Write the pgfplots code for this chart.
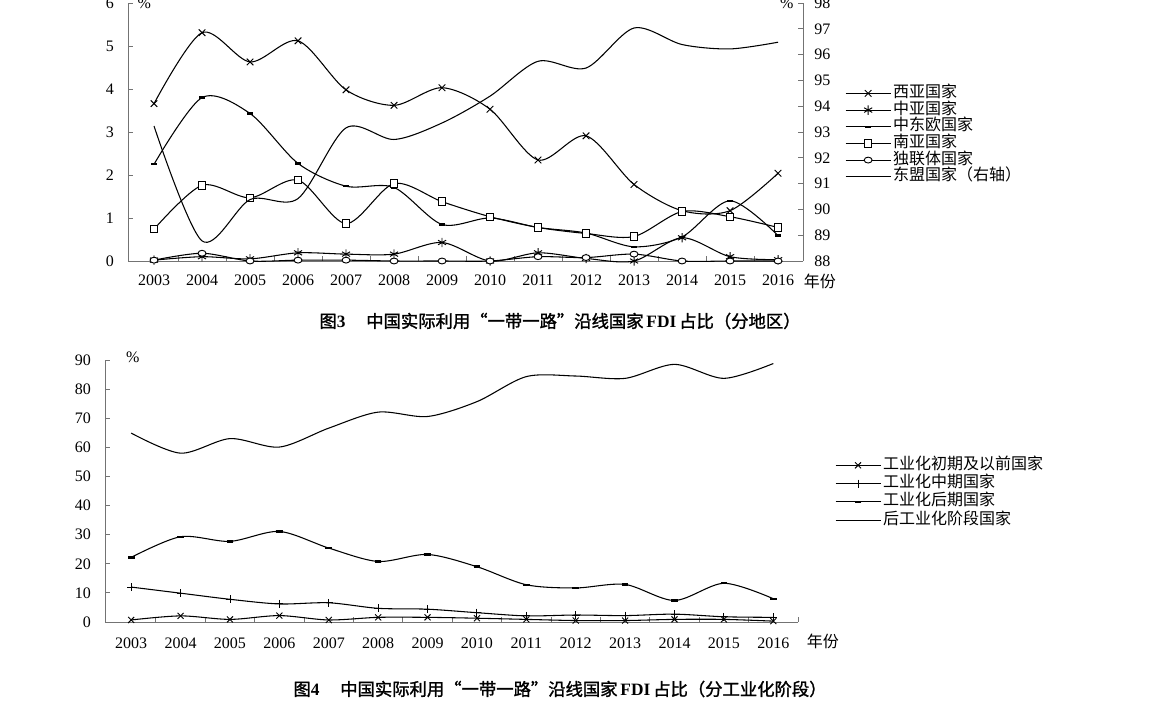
\documentclass[border=0pt]{standalone}
\usepackage{pgfplots}
\pgfplotsset{compat=1.18}
\usepackage{fontspec}
\setmainfont{Liberation Serif}
\newfontfamily\cjk{Noto Sans CJK SC}
\newfontfamily\cjkb[FakeBold=1.5]{Noto Sans CJK SC}
\tikzset{mk/.style={solid, line width=0.7pt}}
\begin{document}
\begin{tikzpicture}
\path[use as bounding box] (0,0) rectangle (880.5pt,536.25pt);
\pgfplotsset{
  base/.style={
    scale only axis, clip=false,
    axis line style={black!55, line width=0.6pt},
    tick style={black!55, line width=0.6pt},
    tick align=inside,
    major tick length=3.75pt, minor tick length=3.75pt,
    tick label style={font=\fontsize{12}{12}\selectfont},
    /pgf/number format/assume math mode=true,
    legend image code/.code={\draw[mark repeat=2,mark phase=2,##1] plot coordinates {(0pt,0pt) (16.875pt,0pt) (33.75pt,0pt)};},
    legend cell align=left,
  },
  ln/.style={black, line width=0.8pt, smooth, tension=0.5},
}
% ---------------- Figure 3 ----------------
\begin{axis}[base,
  at={(96pt,340.5pt)}, anchor=south west,
  width=506.25pt, height=193.5pt,
  xmin=2002.458, xmax=2016.52, ymin=0, ymax=6,
  axis x line*=bottom, axis y line*=left,
  xtick={2003.5,2004.5,...,2015.5}, xticklabels={},
  extra x ticks={2003,2004,2005,2006,2007,2008,2009,2010,2011,2012,2013,2014,2015,2016},
  extra x tick labels={2003,2004,2005,2006,2007,2008,2009,2010,2011,2012,2013,2014,2015,2016},
  extra x tick style={major tick length=0pt, tick label style={yshift=-7pt}},
  ytick={0,1,2,3,4,5,6}, y tick label style={xshift=-7pt},
  legend style={at={(1.062,0.679)}, anchor=north west, draw=none, fill=none, inner sep=0pt,
    row sep=1.5pt, font=\cjk\fontsize{12}{12}\selectfont,
    nodes={inner ysep=0pt, inner xsep=1.5pt, text height=8.5pt, text depth=2.5pt}},
]
\addplot[ln, mark=x, mark size=3.5pt, mark options={mk}] coordinates {
(2003,3.66) (2004,5.31) (2005,4.63) (2006,5.12) (2007,3.98) (2008,3.62) (2009,4.03)
(2010,3.53) (2011,2.35) (2012,2.91) (2013,1.78) (2014,1.17) (2015,1.17) (2016,2.04)};
\addlegendentry{西亚国家}
\addplot[ln, mark=asterisk, mark size=3.5pt, mark options={mk}] coordinates {
(2003,0.02) (2004,0.10) (2005,0.05) (2006,0.19) (2007,0.16) (2008,0.16) (2009,0.43)
(2010,0.00) (2011,0.19) (2012,0.06) (2013,0.00) (2014,0.54) (2015,0.10) (2016,0.03)};
\addlegendentry{中亚国家}
\addplot[ln, mark=-, mark size=2.2pt, mark options={solid, line width=1.8pt}] coordinates {
(2003,2.25) (2004,3.80) (2005,3.43) (2006,2.27) (2007,1.74) (2008,1.71) (2009,0.85)
(2010,1.00) (2011,0.78) (2012,0.65) (2013,0.33) (2014,0.56) (2015,1.40) (2016,0.59)};
\addlegendentry{中东欧国家}
\addplot[ln, mark=square*, mark size=2.8pt, mark options={mk, fill=white}] coordinates {
(2003,0.74) (2004,1.76) (2005,1.47) (2006,1.88) (2007,0.87) (2008,1.80) (2009,1.38)
(2010,1.03) (2011,0.78) (2012,0.64) (2013,0.57) (2014,1.15) (2015,1.03) (2016,0.78)};
\addlegendentry{南亚国家}
\addplot[ln, mark=*, mark size=2.2pt, mark options={mk, fill=white, xscale=1.35}] coordinates {
(2003,0.02) (2004,0.18) (2005,0.00) (2006,0.02) (2007,0.02) (2008,0.00) (2009,0.00)
(2010,0.00) (2011,0.10) (2012,0.08) (2013,0.16) (2014,0.00) (2015,0.00) (2016,0.00)};
\addlegendentry{独联体国家}
\addlegendimage{ln}
\addlegendentry{东盟国家（右轴）}
\node[font=\fontsize{12}{12}\selectfont] at (rel axis cs:0.024,1) {\%};
\node[font=\fontsize{12}{12}\selectfont] at (rel axis cs:0.976,1) {\%};
\node[font=\cjk\fontsize{12}{12}\selectfont] at (rel axis cs:1.025,-0.078) {年份};
\end{axis}
\begin{axis}[base,
  at={(96pt,340.5pt)}, anchor=south west,
  width=506.25pt, height=193.5pt,
  xmin=2002.458, xmax=2016.52, ymin=88, ymax=98,
  axis x line=none, axis y line*=right,
  ytick={88,89,90,91,92,93,94,95,96,97,98}, y tick label style={xshift=5pt},
]
\addplot[ln] coordinates {
(2003,93.23) (2004,88.78) (2005,90.38) (2006,90.42) (2007,93.16) (2008,92.71) (2009,93.35)
(2010,94.39) (2011,95.74) (2012,95.48) (2013,97.03) (2014,96.39) (2015,96.22) (2016,96.48)};
\end{axis}
\node[font=\fontsize{13}{13}\selectfont] at (420pt,295.5pt)
  {{\cjkb 图}\textbf{3}\hspace{1.2em}{\cjkb 中国实际利用“一带一路”沿线国家}\,\textbf{FDI}\,{\cjkb 占比（分地区）}};
% ---------------- Figure 4 ----------------
\begin{axis}[base,
  at={(78.75pt,69.75pt)}, anchor=south west,
  width=519.75pt, height=196.5pt,
  xmin=2002.47, xmax=2016.5, ymin=0, ymax=90,
  axis x line*=bottom, axis y line*=left,
  xtick={2003.5,2004.5,...,2016.5}, xticklabels={},
  extra x ticks={2003,2004,2005,2006,2007,2008,2009,2010,2011,2012,2013,2014,2015,2016},
  extra x tick labels={2003,2004,2005,2006,2007,2008,2009,2010,2011,2012,2013,2014,2015,2016},
  extra x tick style={major tick length=0pt, tick label style={yshift=-8pt}},
  ytick={0,10,20,30,40,50,60,70,80,90}, y tick label style={xshift=-7pt},
  legend style={at={(1.053,0.627)}, anchor=north west, draw=none, fill=none, inner sep=0pt,
    row sep=2.7pt, font=\cjk\fontsize{12}{12}\selectfont,
    nodes={inner ysep=0pt, inner xsep=1.5pt, text height=8.5pt, text depth=2.5pt}},
]
\addplot[ln, mark=x, mark size=3.2pt, mark options={mk}] coordinates {
(2003,0.7) (2004,2.1) (2005,0.9) (2006,2.2) (2007,0.7) (2008,1.6) (2009,1.6)
(2010,1.3) (2011,0.9) (2012,0.5) (2013,0.5) (2014,0.9) (2015,0.9) (2016,0.3)};
\addlegendentry{工业化初期及以前国家}
\addplot[ln, mark=+, mark size=3pt, mark options={mk}] coordinates {
(2003,12.0) (2004,9.9) (2005,7.8) (2006,6.2) (2007,6.6) (2008,4.7) (2009,4.4)
(2010,3.2) (2011,2.1) (2012,2.4) (2013,2.2) (2014,2.7) (2015,1.8) (2016,1.6)};
\addlegendentry{工业化中期国家}
\addplot[ln, mark=-, mark size=2.5pt, mark options={solid, line width=1.8pt}] coordinates {
(2003,22.2) (2004,29.3) (2005,27.7) (2006,31.1) (2007,25.4) (2008,20.8) (2009,23.2)
(2010,19.0) (2011,12.8) (2012,11.7) (2013,12.9) (2014,7.4) (2015,13.3) (2016,8.0)};
\addlegendentry{工业化后期国家}
\addplot[ln] coordinates {
(2003,64.9) (2004,58.0) (2005,63.0) (2006,60.1) (2007,66.6) (2008,72.1) (2009,70.6)
(2010,75.7) (2011,84.3) (2012,84.5) (2013,83.7) (2014,88.5) (2015,83.7) (2016,88.8)};
\addlegendentry{后工业化阶段国家}
\node[font=\fontsize{12}{12}\selectfont] at (rel axis cs:0.040,1.011) {\%};
\node[font=\cjk\fontsize{12}{12}\selectfont] at (rel axis cs:1.036,-0.073) {年份};
\end{axis}
\node[font=\fontsize{13}{13}\selectfont] at (420pt,19.5pt)
  {{\cjkb 图}\textbf{4}\hspace{1.2em}{\cjkb 中国实际利用“一带一路”沿线国家}\,\textbf{FDI}\,{\cjkb 占比（分工业化阶段）}};
\end{tikzpicture}
\end{document}
